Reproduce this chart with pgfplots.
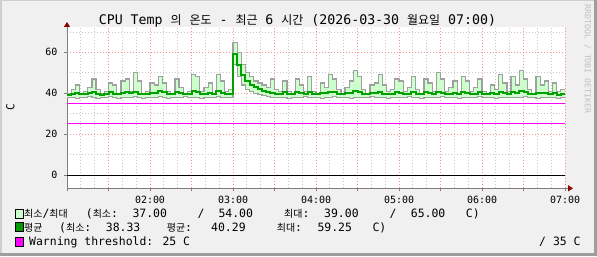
\documentclass[border=0pt]{standalone}
\usepackage{fontspec}
\setmainfont{DejaVu Sans Mono}
\newfontfamily\kr{Noto Sans CJK KR}
\usepackage{pgfplots}
\pgfplotsset{compat=1.18}
\usepackage{pgfplotstable}
\usepgfplotslibrary{fillbetween}
\usetikzlibrary{arrows.meta}
\definecolor{bg}{HTML}{F0F0F0}
\definecolor{shA}{HTML}{CFCFCF}
\definecolor{shB}{HTML}{9E9E9E}
\definecolor{mmfill}{HTML}{CCFFCC}
\definecolor{mmline}{HTML}{A0A0A0}
\definecolor{avgc}{HTML}{00A000}
\definecolor{legg}{HTML}{009900}
\definecolor{mgrid}{HTML}{FF9090}
\definecolor{ngrid}{HTML}{C8C8C8}
\definecolor{arrowc}{HTML}{900000}
\definecolor{axisc}{HTML}{808080}
\definecolor{wm}{HTML}{C0C0C0}
\definecolor{mag}{HTML}{FF00FF}
\pgfdeclarelayer{bgpic}
\pgfplotsset{
  layers/mylayers/.define layer set={
    bgpic,axis background,axis grid,axis ticks,axis lines,axis tick labels,
    pre main,main,axis descriptions,axis foreground
  }{
    grid style={/pgfplots/on layer=axis grid},
    tick style={/pgfplots/on layer=axis ticks},
    axis line style={/pgfplots/on layer=axis lines},
    label style={/pgfplots/on layer=axis descriptions},
    legend style={/pgfplots/on layer=axis descriptions},
    title style={/pgfplots/on layer=axis descriptions},
    colorbar style={/pgfplots/on layer=axis descriptions},
    ticklabel style={/pgfplots/on layer=axis tick labels},
    axis background@ style={/pgfplots/on layer=axis background},
    3d box foreground style={/pgfplots/on layer=axis foreground},
  },
}
\newcommand\fL{\fontsize{11.5}{12}\selectfont}
\newcommand\K[1]{{\kr\fontsize{10}{10}\selectfont #1}}
\newcommand\KT[1]{{\kr\fontsize{12}{12}\selectfont #1}}
\pgfplotstableread{
t mn av mx
0 38 39.3 40
3 38 39.6 42
6 37.5 39.9 44
9 38 39.5 40
12 38 39.4 41
15 38.5 40.1 43
18 38 40.6 47
21 37.5 39.5 42
24 38 39.3 40
27 38 39.8 41
30 38.5 40.4 45
33 38 39.6 44
36 37.5 39.5 40
39 38 40.2 46
42 38 40.7 47
45 38 39.9 41
48 38.5 40.8 50
51 38 39.7 46
54 37.5 39.4 40
57 38 39.6 41
60 38 40.3 45
63 38 40.0 44
66 38.5 40.9 48
69 38 40.4 45
72 37.5 39.6 41
75 38 39.4 40
78 38 40.5 47
81 38 40.1 43
84 38.5 39.4 40
87 38 39.8 41
90 38 40.9 49
93 38 40.6 48
96 37.5 39.5 41
99 38 39.7 43
102 38 40.2 45
105 38 39.5 40
108 38.5 40.9 49
111 38 40.3 46
114 38 39.6 41
117 38 39.5 42
120 54 59.25 65
123 48 54 60
126 44 49 54
129 42 46 50
132 41 44 48
135 40 43 46
138 39.5 42 45
141 39 41.3 44
144 38.5 40.8 43
147 38 40.3 47
150 38 39.8 42
153 38 39.6 41
156 38 40.5 46
159 37.5 39.6 41
162 38 39.5 40
165 38 40.4 47
168 38 40.0 44
171 38.5 39.7 41
174 38 40.6 48
177 38 39.5 41
180 38 39.6 40
183 37.5 40.2 45
186 38 40.0 43
189 38 40.7 49
192 38.5 40.5 47
195 38 39.7 42
198 38 39.5 40
201 38 39.9 43
204 37.5 40.3 46
207 38 40.9 51
210 38 40.4 48
213 38 39.7 42
216 38 39.4 40
219 38.5 39.9 44
222 38 40.1 45
225 38 40.7 49
228 38 39.8 44
231 37.5 39.5 41
234 38 39.7 42
237 38 40.4 47
240 38 40.2 46
243 38 39.6 41
246 38.5 39.8 43
249 38 40.7 48
252 38 39.7 42
255 37.5 39.4 40
258 38 40.4 47
261 38 40.1 45
264 38 39.6 41
267 38 40.8 50
270 38.5 40.3 47
273 38 39.5 41
276 38 39.7 43
279 38 40.3 46
282 37.5 39.4 40
285 38 40.6 48
288 38 40.2 46
291 38 39.6 41
294 38 39.8 43
297 38.5 40.5 47
300 38 39.5 41
303 38 39.4 40
306 38 40.0 44
309 37.5 39.6 42
312 38 40.8 49
315 38 40.2 45
318 38 39.6 41
321 38 40.5 48
324 38 40.1 44
327 38 40.9 51
330 38.5 40.4 47
333 38 39.7 42
336 38 39.4 40
339 37.5 40.3 48
342 38 39.9 44
345 38 40.3 46
348 38 39.5 41
351 38 39.9 45
354 37.5 39.3 41
357 38 39.5 42
360 38 39.5 42
}\datatab
\begin{document}
\begin{tikzpicture}[x=1bp,y=1bp]
\node[anchor=base,inner sep=0pt] at (297.4,232) {\fontsize{13.3}{14}\selectfont CPU Temp \KT{의} \KT{온도} - \KT{최근} 6 \KT{시간} (2026-03-30 \KT{월요일} 07:00)};
\node[rotate=-90,inner sep=0pt,text=wm] at (587.5,197) {\fontsize{8.2}{8.2}\selectfont RRDTOOL / TOBI OETIKER};
\begin{axis}[
  set layers=mylayers,
  at={(67bp,67.7bp)}, anchor=south west,
  scale only axis, width=498bp, height=161.3bp,
  xmin=0, xmax=360, ymin=-6.5, ymax=72.4,
  axis x line=bottom, axis y line=left,
  axis line style={draw=axisc, line width=1bp},
  x axis line style={-{Triangle[length=5bp,width=6bp,color=arrowc,fill=arrowc]}, shorten >=-8bp},
  y axis line style={-{Triangle[length=5bp,width=6bp,color=arrowc,fill=arrowc]}, shorten >=-5bp},
  xtick={0,30,...,360},
  xticklabels={,,02:00,,03:00,,04:00,,05:00,,06:00,,07:00},
  minor x tick num=2,
  ytick={0,20,40,60}, minor ytick={10,30,50,70},
  grid=both,
  major grid style={mgrid, line width=0.8bp, dash pattern=on 1bp off 2bp},
  minor grid style={ngrid, line width=0.8bp, dash pattern=on 1bp off 2bp},
  tick align=outside, major tick length=3bp, minor tick length=0bp,
  every tick/.style={axisc, line width=0.8bp},
  axis background/.style={fill=white},
  xticklabel style={font=\fontsize{10}{10}\selectfont, anchor=base, yshift=-12.4bp, inner sep=0pt},
  yticklabel style={font=\fontsize{10}{10}\selectfont, anchor=east, inner sep=0pt, xshift=-6.5bp},
  /pgf/number format/assume math mode=true,
  ylabel={C},
  ylabel style={at={(axis description cs:-0.1135,0.5)}, anchor=center, font=\fontsize{11}{11}\selectfont},
]
\addplot[name path=mxp, const plot, draw=none] table[x=t,y=mx]{\datatab};
\addplot[name path=mnp, const plot, draw=none] table[x=t,y=mn]{\datatab};
\addplot[fill=mmfill, draw=none] fill between[of=mxp and mnp];
\addplot[const plot, mmline, line width=1.2bp] table[x=t,y=mx]{\datatab};
\addplot[const plot, mmline, line width=1.2bp] table[x=t,y=mn]{\datatab};
\addplot[const plot, avgc, line width=2bp] table[x=t,y=av]{\datatab};
\addplot[mag, line width=1bp] coordinates {(0,25) (360,25)};
\addplot[mag, line width=1bp] coordinates {(0,35) (360,35)};
\addplot[black, line width=1bp] coordinates {(0,0) (360,0)};
\end{axis}
\begin{pgfonlayer}{bgpic}
\fill[bg] (0,0) rectangle (597,256);
\fill[shA] (0,0) rectangle (1.5,256);
\fill[shA] (0,254.5) rectangle (597,256);
\fill[shB] (594,0) rectangle (597,256);
\fill[shB] (0,0) rectangle (597,3);
\end{pgfonlayer}
% legend
\filldraw[fill=mmfill, draw=black, line width=0.8bp] (15.3,38) rectangle (23.3,46.7);
\filldraw[fill=legg, draw=black, line width=0.8bp] (15.3,24.3) rectangle (23.3,33.3);
\filldraw[fill=mag, draw=black, line width=0.8bp] (15.3,9.3) rectangle (23.3,18.3);
\begin{scope}[every node/.style={anchor=base west, inner sep=0pt, font=\fL}]
\node at (24,39) {\K{최소}/\K{최대}};
\node at (85.7,39) {(\K{최소}:};
\node at (132.3,39) {37.00};
\node at (197.5,39) {/};
\node at (218.3,39) {54.00};
\node at (284,39) {\K{최대}:};
\node at (324,39) {39.00};
\node at (389.5,39) {/};
\node at (410.7,39) {65.00};
\node at (465.7,39) {C)};
\node at (24,25) {\K{평균}};
\node at (59,25) {(\K{최소}:};
\node at (105.7,25) {38.33};
\node at (166.7,25) {\K{평균}:};
\node at (211,25) {40.29};
\node at (276.7,25) {\K{최대}:};
\node at (317.3,25) {59.25};
\node at (372.3,25) {C)};
\node at (29,10.3) {Warning threshold: 25 C};
\node at (539,10.3) {/ 35 C};
\end{scope}
\pgfresetboundingbox
\useasboundingbox (0,0) rectangle (597,256);
\end{tikzpicture}
\end{document}
